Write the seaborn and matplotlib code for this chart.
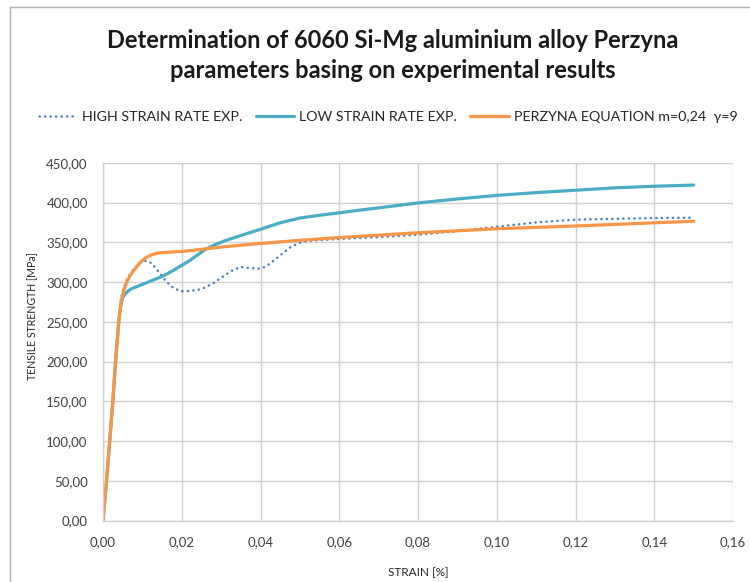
import matplotlib
matplotlib.use("Agg")
import matplotlib.pyplot as plt
import seaborn as sns
import pandas as pd
from matplotlib.patches import Rectangle
from matplotlib.ticker import FuncFormatter

# ---- data ----
high_strain = [0, 0.0009, 0.0017, 0.0025, 0.0032, 0.0040, 0.0046, 0.0053, 0.0061, 0.0070,
               0.0080, 0.0095, 0.0105, 0.0113, 0.0124, 0.0141, 0.0160, 0.0180, 0.0200, 0.0225,
               0.0250, 0.0280, 0.0305, 0.0330, 0.0350, 0.0375, 0.0400, 0.0415, 0.0435, 0.0455,
               0.0478, 0.0500, 0.0520, 0.0560, 0.0600, 0.0700, 0.0800, 0.0900, 0.1000, 0.1100,
               0.1200, 0.1300, 0.1400, 0.1500]
high_stress = [0, 48, 97, 147, 198, 252, 280, 293, 303, 311,
               317, 324, 326.5, 326.5, 323.5, 313, 301, 292, 288.5, 289,
               291, 298.5, 307, 315, 319, 317.5, 316.8, 320, 327.5, 335.5,
               344.5, 349.5, 351.7, 353, 354.2, 356.5, 359.5, 364, 369.5, 375,
               378.5, 379.5, 380.5, 381]

low_strain = [0, 0.0009, 0.0017, 0.0025, 0.0032, 0.0040, 0.0045, 0.0050, 0.0060, 0.0070,
              0.0090, 0.0115, 0.0150, 0.0180, 0.0200, 0.0220, 0.0240, 0.0260, 0.0280, 0.0310,
              0.0350, 0.0375, 0.0400, 0.0425, 0.0450, 0.0475, 0.0500, 0.0550, 0.0600, 0.0650,
              0.0700, 0.0800, 0.0900, 0.1000, 0.1100, 0.1200, 0.1300, 0.1400, 0.1500]
low_stress = [0, 50, 100, 150, 200, 250, 270, 281, 287, 291,
              295, 300, 307, 315, 321, 327, 334, 341, 346, 352,
              358.5, 362.5, 366.3, 370.5, 374.5, 377.5, 380.5, 384, 387, 390.3,
              393.3, 399.5, 404.5, 409, 412.5, 415.5, 418.5, 420.5, 422]

perzyna_strain = [0, 0.0009, 0.0017, 0.0025, 0.0032, 0.0040, 0.0046, 0.0052, 0.0060, 0.0070,
                  0.0080, 0.0095, 0.0110, 0.0125, 0.0140, 0.0165, 0.0200, 0.0240, 0.0300, 0.0400,
                  0.0500, 0.0600, 0.0800, 0.1000, 0.1200, 0.1400, 0.1500]
perzyna_stress = [0, 50, 100, 150, 200, 250, 275, 288, 300, 309,
                  316, 325, 331, 334.5, 336.5, 337.5, 338.5, 340.5, 344, 348.5,
                  352.5, 356, 362, 367, 370.5, 374.5, 376.5]

labels = ["HIGH STRAIN RATE EXP.", "LOW STRAIN RATE EXP.", "PERZYNA EQUATION m=0,24  \u03b3=9"]
title_lines = ["Determination of 6060 Si-Mg aluminium alloy Perzyna",
               "parameters basing on experimental results"]
x_ticks = [0, 0.02, 0.04, 0.06, 0.08, 0.10, 0.12, 0.14, 0.16]
y_ticks = [0, 50, 100, 150, 200, 250, 300, 350, 400, 450]

# ---- style ----
sns.set_theme(style="white")
plt.rcParams['font.family'] = ['Lato', 'DejaVu Sans']

W, H = 750, 582
fig = plt.figure(figsize=(W / 100, H / 100), dpi=100)
left, right, top, bottom = 103, 733, 162.8, 520.5
ax = fig.add_axes([left / W, 1 - bottom / H, (right - left) / W, (bottom - top) / H])

grid_c = "#d0d0d0"
ax.grid(True, color=grid_c, linewidth=1.0)
ax.set_axisbelow(True)

df_high = pd.DataFrame({"strain": high_strain, "stress": high_stress})
df_low = pd.DataFrame({"strain": low_strain, "stress": low_stress})
df_per = pd.DataFrame({"strain": perzyna_strain, "stress": perzyna_stress})

sns.lineplot(data=df_high, x="strain", y="stress", ax=ax, sort=False,
             color="#4F81BD", linewidth=1.8, label=labels[0])
sns.lineplot(data=df_low, x="strain", y="stress", ax=ax, sort=False,
             color="#4BACC6", linewidth=2.3, label=labels[1])
sns.lineplot(data=df_per, x="strain", y="stress", ax=ax, sort=False,
             color="#F79646", linewidth=2.3, label=labels[2])
lines = ax.get_lines()
lines[0].set_dashes([0.1, 2.1])
lines[0].set_dash_capstyle("round")

ax.set_xlim(0, 0.16)
ax.set_ylim(0, 450)
ax.set_xticks(x_ticks)
ax.set_yticks(y_ticks)
ax.xaxis.set_major_formatter(FuncFormatter(lambda v, p: f"{v:.2f}".replace(".", ",")))
ax.yaxis.set_major_formatter(FuncFormatter(lambda v, p: f"{v:.2f}".replace(".", ",")))
ax.tick_params(axis="y", length=4, width=1, color=grid_c, labelsize=9.5, pad=7, labelcolor="#404040")
ax.tick_params(axis="x", length=0, labelsize=9.5, pad=11, labelcolor="#404040")
for s in ["top", "right"]:
    ax.spines[s].set_visible(False)
for s in ["left", "bottom"]:
    ax.spines[s].set_color(grid_c)
    ax.spines[s].set_linewidth(1.0)

ax.set_xlabel("STRAIN [%]", fontsize=8.5, color="#262626", labelpad=14)
ax.set_ylabel("TENSILE STRENGTH [MPa]", fontsize=7.6, color="#262626")
ax.yaxis.set_label_coords((33 - left) / (right - left), (bottom - 316) / (bottom - top))
ax.yaxis.label.set_va("center")

handles, lbls = ax.get_legend_handles_labels()
ax.legend_.remove()
fig.legend(handles, lbls, loc="center", bbox_to_anchor=(388 / W, 1 - 117 / H), ncol=3,
           frameon=False, fontsize=10.3, handlelength=2.7, handletextpad=0.35,
           columnspacing=0.9, labelcolor="#262626")

fig.text(393 / W, 1 - 41 / H, title_lines[0], ha="center", va="center",
         fontsize=17, fontweight="bold", color="#1a1a1a")
fig.text(393 / W, 1 - 70 / H, title_lines[1], ha="center", va="center",
         fontsize=17, fontweight="bold", color="#1a1a1a")

fig.add_artist(Rectangle((10 / W, -0.1), 1.2, 1 - 7 / H + 0.1, transform=fig.transFigure,
                         fill=False, edgecolor="#b0b0b0", linewidth=1.0, clip_on=False))

fig.savefig("out.png", dpi=100)
